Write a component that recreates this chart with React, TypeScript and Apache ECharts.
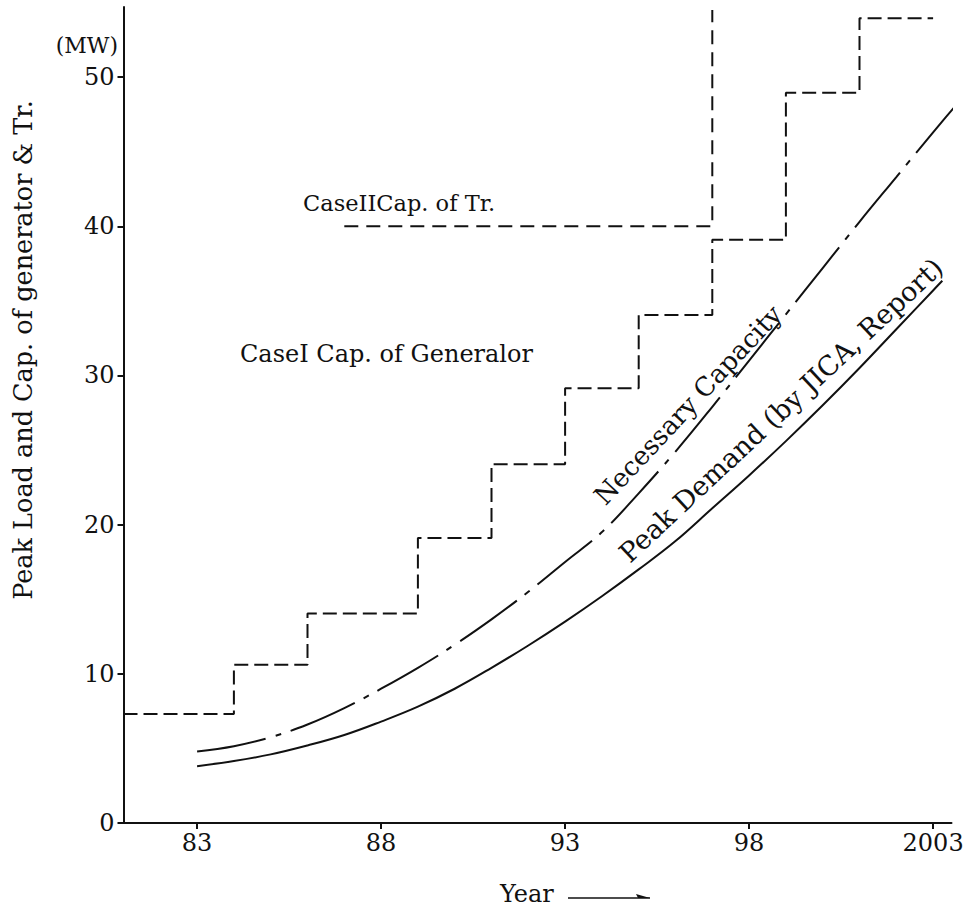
import React, { useEffect, useRef } from "react";
import * as echarts from "echarts";

// Case I capacity of generator (step function)
const stepYears = [1981, 1984, 1986, 1989, 1991, 1993, 1995, 1997, 1999, 2001, 2003];
const stepLevels = [7.3, 10.6, 14.05, 19.1, 24.05, 29.15, 34.05, 39.1, 48.95, 53.95];

// Case II capacity of transformer
const caseIIYears = [1987, 1997, 1997];
const caseIIValues = [40, 40, 54.5];

// Necessary capacity (dash-dot)
const necYears = [1983, 1984, 1985, 1986, 1987, 1988, 1989, 1990, 1991, 1992, 1993, 1994, 1995, 1996, 1997, 1998, 1999, 2000, 2001, 2002, 2003, 2004];
const necValues = [4.8, 5.15, 5.75, 6.6, 7.7, 9.0, 10.4, 11.95, 13.65, 15.5, 17.5, 19.5, 22.1, 24.9, 27.9, 31.0, 34.1, 37.2, 40.3, 43.3, 46.3, 49.2];

// Peak demand (by JICA, Report)
const peakYears = [1983, 1984, 1985, 1986, 1987, 1988, 1989, 1990, 1991, 1992, 1993, 1994, 1995, 1996, 1997, 1998, 1999, 2000, 2001, 2002, 2003, 2003.25];
const peakValues = [3.8, 4.15, 4.6, 5.2, 5.9, 6.8, 7.8, 9.0, 10.4, 11.9, 13.5, 15.2, 17.0, 18.9, 21.1, 23.3, 25.6, 28.0, 30.5, 33.1, 35.7, 36.35];

const xTicks = [1983, 1988, 1993, 1998, 2003];
const yTicks = [0, 10, 20, 30, 40, 50];

const serif = "DejaVu Serif";

export default function App() {
  const ref = useRef<HTMLDivElement>(null);
  useEffect(() => {
    if (!ref.current) return;
    const chart = echarts.init(ref.current, undefined, { renderer: "svg" });

    const stepData: number[][] = [];
    for (let i = 0; i < stepLevels.length; i++) {
      stepData.push([stepYears[i], stepLevels[i]]);
      stepData.push([stepYears[i + 1], stepLevels[i]]);
    }
    const caseII = caseIIYears.map((y, i) => [y, caseIIValues[i]]);
    const nec = necYears.map((y, i) => [y, necValues[i]]);
    const peak = peakYears.map((y, i) => [y, peakValues[i]]);

    chart.setOption({
      animation: false,
      backgroundColor: "#ffffff",
      grid: { left: 123.5, right: 23.5, top: 7, bottom: 90, containLabel: false, outerBoundsMode: "none" },
      xAxis: {
        type: "value",
        min: 1981,
        max: 2003.5,
        splitLine: { show: false },
        axisLine: { lineStyle: { color: "#111", width: 2 } },
        axisTick: { show: true, customValues: xTicks, length: 6, lineStyle: { color: "#111", width: 2 } },
        axisLabel: {
          customValues: xTicks,
          formatter: (v: number) => (v >= 2000 ? String(v) : String(v - 1900)),
          color: "#111",
          fontFamily: serif,
          fontSize: 24,
          margin: 8,
        },
      },
      yAxis: {
        type: "value",
        min: 0,
        max: 54.7,
        splitLine: { show: false },
        axisLine: { show: true, lineStyle: { color: "#111", width: 2 } },
        axisTick: { show: true, customValues: yTicks, length: 6, lineStyle: { color: "#111", width: 2 } },
        axisLabel: {
          customValues: yTicks,
          color: "#111",
          fontFamily: serif,
          fontSize: 24,
          margin: 9,
        },
      },
      graphic: [
        { type: "text", x: 118, y: 45, style: { text: "(MW)", font: `22px "${serif}"`, fill: "#111", align: "right", verticalAlign: "middle" } },
        { type: "text", x: 23, y: 350, rotation: Math.PI / 2, style: { text: "Peak Load and Cap. of generator & Tr.", font: `25.5px "${serif}"`, fill: "#111", align: "center", verticalAlign: "middle" } },
        { type: "text", x: 303, y: 203, style: { text: "CaseIICap. of Tr.", font: `22.5px "${serif}"`, fill: "#111", align: "left", verticalAlign: "middle" } },
        { type: "text", x: 240, y: 354, style: { text: "CaseI Cap. of Generalor", font: `24px "${serif}"`, fill: "#111", align: "left", verticalAlign: "middle" } },
        { type: "text", x: 688, y: 405, rotation: (47 * Math.PI) / 180, style: { text: "Necessary Capacity", font: `26px "${serif}"`, fill: "#111", align: "center", verticalAlign: "middle" } },
        { type: "text", x: 781, y: 410, rotation: (43 * Math.PI) / 180, style: { text: "Peak Demand (by JICA, Report)", font: `27px "${serif}"`, fill: "#111", align: "center", verticalAlign: "middle" } },
        { type: "text", x: 500, y: 894, style: { text: "Year", font: `24px "${serif}"`, fill: "#111", align: "left", verticalAlign: "middle" } },
        { type: "line", shape: { x1: 568, y1: 898, x2: 650, y2: 898 }, style: { stroke: "#111", lineWidth: 1.5 } },
        { type: "polygon", shape: { points: [[650, 898], [636, 894], [638, 898]] }, style: { fill: "#111" } },
      ],
      series: [
        {
          type: "line",
          data: stepData,
          symbol: "none",
          lineStyle: { color: "#111", width: 2, type: [14, 6] },
        },
        {
          type: "line",
          data: caseII,
          symbol: "none",
          lineStyle: { color: "#111", width: 2, type: [14, 8] },
        },
        {
          type: "line",
          data: nec,
          symbol: "none",
          smooth: 0.4,
          clip: false,
          lineStyle: { color: "#111", width: 2, type: [70, 10, 6, 10] },
        },
        {
          type: "line",
          data: peak,
          symbol: "none",
          smooth: 0.4,
          lineStyle: { color: "#111", width: 2 },
        },
      ],
    });
    return () => chart.dispose();
  }, []);
  return <div ref={ref} style={{ width: 975, height: 913, position: "absolute", left: 0, top: 0 }} />;
}
